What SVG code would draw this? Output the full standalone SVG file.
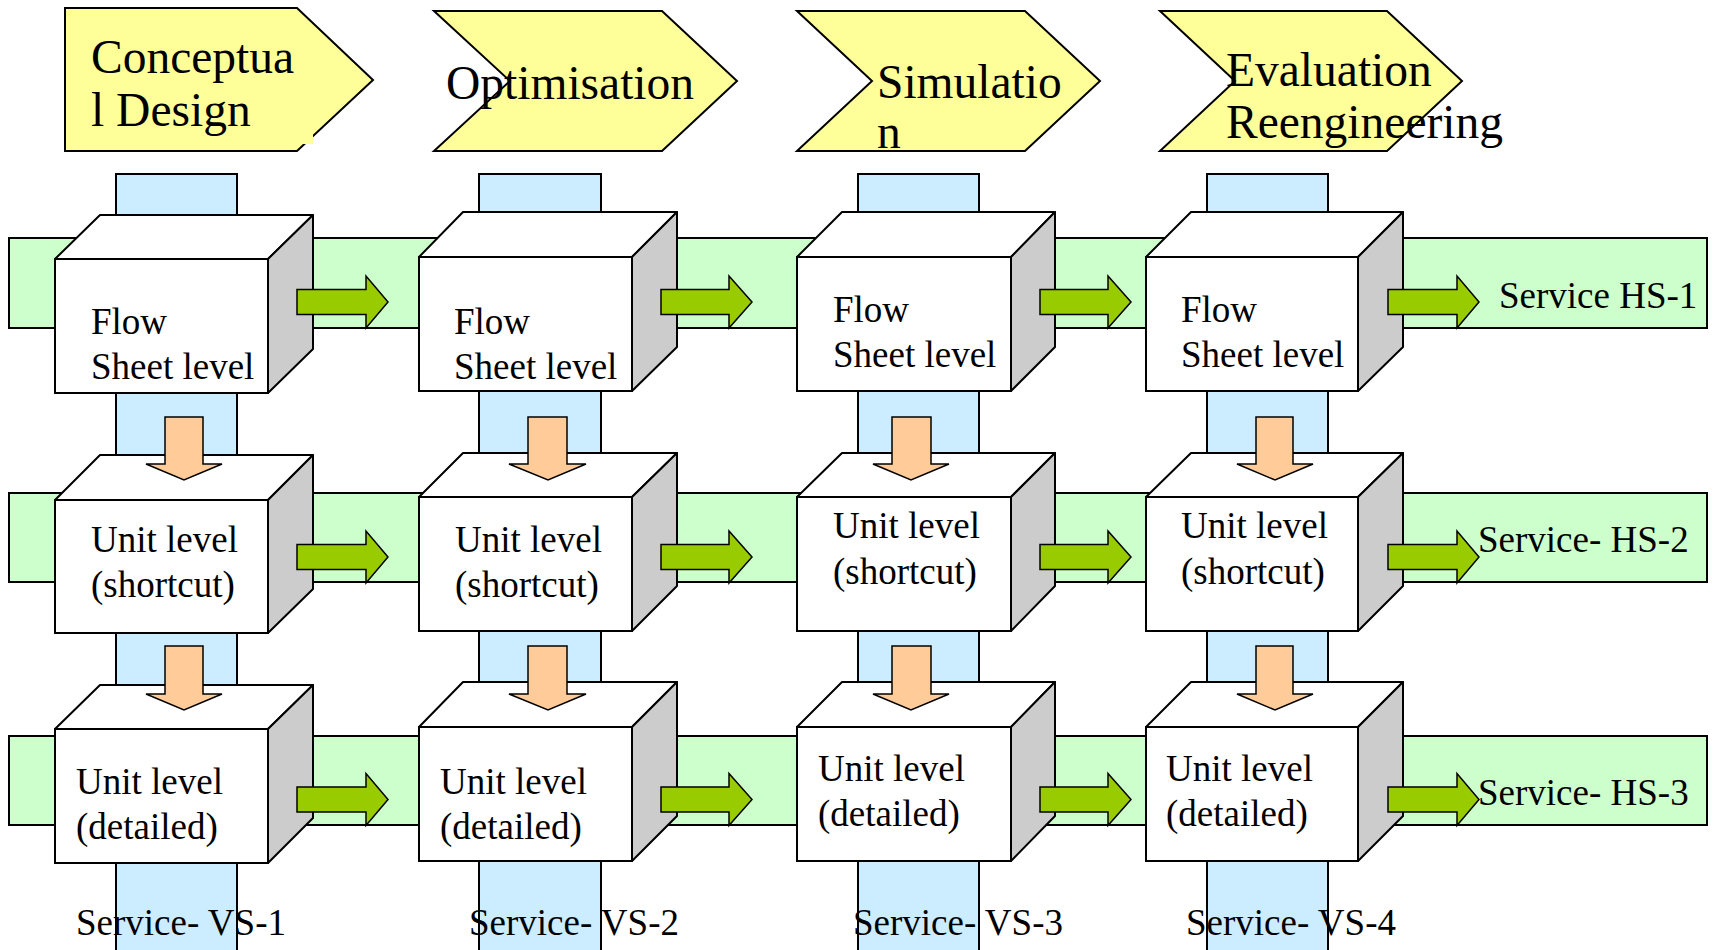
<svg xmlns="http://www.w3.org/2000/svg" width="1713" height="950" viewBox="0 0 1713 950">
<style>
  text { font-family: "Liberation Serif", "Times New Roman", serif; fill: #000; }
  .title { font-size: 47.5px; }
  .lbl { font-size: 37px; }
  .col { fill: #CCECFF; stroke: #000; stroke-width: 2; }
  .band { fill: #CCFFCC; stroke: #000; stroke-width: 2; }
  .chev { fill: #FFFF99; stroke: #000; stroke-width: 2; stroke-linejoin: miter; }
  .front { fill: #FFFFFF; stroke: #000; stroke-width: 2; }
  .top { fill: #FFFFFF; stroke: #000; stroke-width: 2; stroke-linejoin: round; }
  .side { fill: #CCCCCC; stroke: #000; stroke-width: 2; stroke-linejoin: round; }
  .garrow { fill: #99CC00; stroke: #000; stroke-width: 1.5; }
  .oarrow { fill: #FFCC99; stroke: #000; stroke-width: 1.5; }
</style>
<rect width="1713" height="950" fill="#FFFFFF"/>

<g id="phases">
  <g id="phase-conceptual">
    <polygon class="chev" points="65,8 297,8 373,80 297,151 65,151"/>
    <rect x="300" y="133" width="13" height="11" fill="#FFFF99"/>
    <text class="title" x="91" y="73">Conceptua</text>
    <text class="title" x="91" y="126">l Design</text>
  </g>
  <g id="phase-optimisation">
    <polygon class="chev" points="434,11 662,11 737,81 662,151 434,151 510,81"/>
    <text class="title" x="446" y="99">Optimisation</text>
  </g>
  <g id="phase-simulation">
    <polygon class="chev" points="797,11 1025,11 1100,81 1025,151 797,151 872,81"/>
    <text class="title" x="877" y="98">Simulatio</text>
    <text class="title" x="877" y="148">n</text>
  </g>
  <g id="phase-evaluation">
    <polygon class="chev" points="1160,11 1387,11 1462,81 1387,151 1160,151 1235,81"/>
    <text class="title" x="1226" y="86">Evaluation</text>
    <text class="title" x="1226" y="138">Reengineering</text>
  </g>
</g>

<g id="vertical-services">
  <rect id="vs-col-1" class="col" x="116" y="174" width="121" height="800"/>
  <rect id="vs-col-2" class="col" x="479" y="174" width="122" height="800"/>
  <rect id="vs-col-3" class="col" x="858" y="174" width="121" height="800"/>
  <rect id="vs-col-4" class="col" x="1207" y="174" width="121" height="800"/>
</g>

<g id="horizontal-services">
  <rect id="hs-band-1" class="band" x="9" y="238" width="1698" height="90"/>
  <rect id="hs-band-2" class="band" x="9" y="493" width="1698" height="89"/>
  <rect id="hs-band-3" class="band" x="9" y="736" width="1698" height="89"/>
</g>

<g id="cubes">
  <g id="c1r1">
    <rect class="front" x="55" y="259" width="213" height="134"/>
    <polygon class="top" points="55,259 100,215 313,215 268,259"/>
    <polygon class="side" points="268,259 313,215 313,349 268,393"/>
    <text class="lbl" x="91" y="334">Flow</text>
    <text class="lbl" x="91" y="379">Sheet level</text>
  </g>
  <g id="c2r1">
    <rect class="front" x="419" y="257" width="213" height="134"/>
    <polygon class="top" points="419,257 463,212 677,212 632,257"/>
    <polygon class="side" points="632,257 677,212 677,347 632,391"/>
    <text class="lbl" x="454" y="334">Flow</text>
    <text class="lbl" x="454" y="379">Sheet level</text>
  </g>
  <g id="c3r1">
    <rect class="front" x="797" y="257" width="214" height="134"/>
    <polygon class="top" points="797,257 842,212 1055,212 1011,257"/>
    <polygon class="side" points="1011,257 1055,212 1055,347 1011,391"/>
    <text class="lbl" x="833" y="322">Flow</text>
    <text class="lbl" x="833" y="367">Sheet level</text>
  </g>
  <g id="c4r1">
    <rect class="front" x="1146" y="257" width="212" height="134"/>
    <polygon class="top" points="1146,257 1191,212 1403,212 1358,257"/>
    <polygon class="side" points="1358,257 1403,212 1403,347 1358,391"/>
    <text class="lbl" x="1181" y="322">Flow</text>
    <text class="lbl" x="1181" y="367">Sheet level</text>
  </g>

  <g id="c1r2">
    <rect class="front" x="55" y="500" width="213" height="133"/>
    <polygon class="top" points="55,500 100,455 313,455 268,500"/>
    <polygon class="side" points="268,500 313,455 313,589 268,633"/>
    <text class="lbl" x="91" y="552">Unit level</text>
    <text class="lbl" x="91" y="597">(shortcut)</text>
  </g>
  <g id="c2r2">
    <rect class="front" x="419" y="497" width="213" height="134"/>
    <polygon class="top" points="419,497 463,453 677,453 632,497"/>
    <polygon class="side" points="632,497 677,453 677,586 632,631"/>
    <text class="lbl" x="455" y="552">Unit level</text>
    <text class="lbl" x="455" y="597">(shortcut)</text>
  </g>
  <g id="c3r2">
    <rect class="front" x="797" y="497" width="214" height="134"/>
    <polygon class="top" points="797,497 842,453 1055,453 1011,497"/>
    <polygon class="side" points="1011,497 1055,453 1055,586 1011,631"/>
    <text class="lbl" x="833" y="538">Unit level</text>
    <text class="lbl" x="833" y="584">(shortcut)</text>
  </g>
  <g id="c4r2">
    <rect class="front" x="1146" y="497" width="212" height="134"/>
    <polygon class="top" points="1146,497 1191,453 1403,453 1358,497"/>
    <polygon class="side" points="1358,497 1403,453 1403,586 1358,631"/>
    <text class="lbl" x="1181" y="538">Unit level</text>
    <text class="lbl" x="1181" y="584">(shortcut)</text>
  </g>

  <g id="c1r3">
    <rect class="front" x="55" y="729" width="213" height="134"/>
    <polygon class="top" points="55,729 100,685 313,685 268,729"/>
    <polygon class="side" points="268,729 313,685 313,818 268,863"/>
    <text class="lbl" x="76" y="794">Unit level</text>
    <text class="lbl" x="76" y="839">(detailed)</text>
  </g>
  <g id="c2r3">
    <rect class="front" x="419" y="727" width="213" height="134"/>
    <polygon class="top" points="419,727 463,682 677,682 632,727"/>
    <polygon class="side" points="632,727 677,682 677,816 632,861"/>
    <text class="lbl" x="440" y="794">Unit level</text>
    <text class="lbl" x="440" y="839">(detailed)</text>
  </g>
  <g id="c3r3">
    <rect class="front" x="797" y="727" width="214" height="134"/>
    <polygon class="top" points="797,727 842,682 1055,682 1011,727"/>
    <polygon class="side" points="1011,727 1055,682 1055,816 1011,861"/>
    <text class="lbl" x="818" y="781">Unit level</text>
    <text class="lbl" x="818" y="826">(detailed)</text>
  </g>
  <g id="c4r3">
    <rect class="front" x="1146" y="727" width="212" height="134"/>
    <polygon class="top" points="1146,727 1191,682 1403,682 1358,727"/>
    <polygon class="side" points="1358,727 1403,682 1403,816 1358,861"/>
    <text class="lbl" x="1166" y="781">Unit level</text>
    <text class="lbl" x="1166" y="826">(detailed)</text>
  </g>
</g>

<g id="connectors">
  <!-- green horizontal arrows -->
  <polygon class="garrow" points="297,289.5 366,289.5 366,276 388,302 366,328 366,314.5 297,314.5"/>
  <polygon class="garrow" points="661,289.5 729,289.5 729,276 752,302 729,328 729,314.5 661,314.5"/>
  <polygon class="garrow" points="1040,289.5 1108,289.5 1108,276 1131,302 1108,328 1108,314.5 1040,314.5"/>
  <polygon class="garrow" points="1388,289.5 1457,289.5 1457,276 1479,302 1457,328 1457,314.5 1388,314.5"/>

  <polygon class="garrow" points="297,544.5 366,544.5 366,531 388,557 366,583 366,569.5 297,569.5"/>
  <polygon class="garrow" points="661,544.5 729,544.5 729,531 752,557 729,583 729,569.5 661,569.5"/>
  <polygon class="garrow" points="1040,544.5 1108,544.5 1108,531 1131,557 1108,583 1108,569.5 1040,569.5"/>
  <polygon class="garrow" points="1388,544.5 1457,544.5 1457,531 1479,557 1457,583 1457,569.5 1388,569.5"/>

  <polygon class="garrow" points="297,787 366,787 366,773.5 388,799.5 366,825.5 366,812 297,812"/>
  <polygon class="garrow" points="661,787 729,787 729,773.5 752,799.5 729,825.5 729,812 661,812"/>
  <polygon class="garrow" points="1040,787 1108,787 1108,773.5 1131,799.5 1108,825.5 1108,812 1040,812"/>
  <polygon class="garrow" points="1388,787 1457,787 1457,773.5 1479,799.5 1457,825.5 1457,812 1388,812"/>

  <!-- orange vertical arrows -->
  <polygon class="oarrow" points="165,417 203,417 203,464 222,464 184,480 146,464 165,464"/>
  <polygon class="oarrow" points="528,417 567,417 567,464 586,464 548,480 509,464 528,464"/>
  <polygon class="oarrow" points="892,417 931,417 931,464 949,464 911,480 873,464 892,464"/>
  <polygon class="oarrow" points="1256,417 1293,417 1293,464 1313,464 1275,480 1237,464 1256,464"/>

  <polygon class="oarrow" points="165,646 203,646 203,694 222,694 184,710 146,694 165,694"/>
  <polygon class="oarrow" points="528,646 567,646 567,694 586,694 548,710 509,694 528,694"/>
  <polygon class="oarrow" points="892,646 931,646 931,694 949,694 911,710 873,694 892,694"/>
  <polygon class="oarrow" points="1256,646 1293,646 1293,694 1313,694 1275,710 1237,694 1256,694"/>
</g>

<g id="service-labels">
  <text id="hs-1" class="lbl" x="1499" y="308">Service HS-1</text>
  <text id="hs-2" class="lbl" x="1478" y="552">Service- HS-2</text>
  <text id="hs-3" class="lbl" x="1478" y="805">Service- HS-3</text>
  <text id="vs-1" class="lbl" x="76" y="935">Service- VS-1</text>
  <text id="vs-2" class="lbl" x="469" y="935">Service- VS-2</text>
  <text id="vs-3" class="lbl" x="853" y="935">Service- VS-3</text>
  <text id="vs-4" class="lbl" x="1186" y="935">Service- VS-4</text>
</g>
</svg>
